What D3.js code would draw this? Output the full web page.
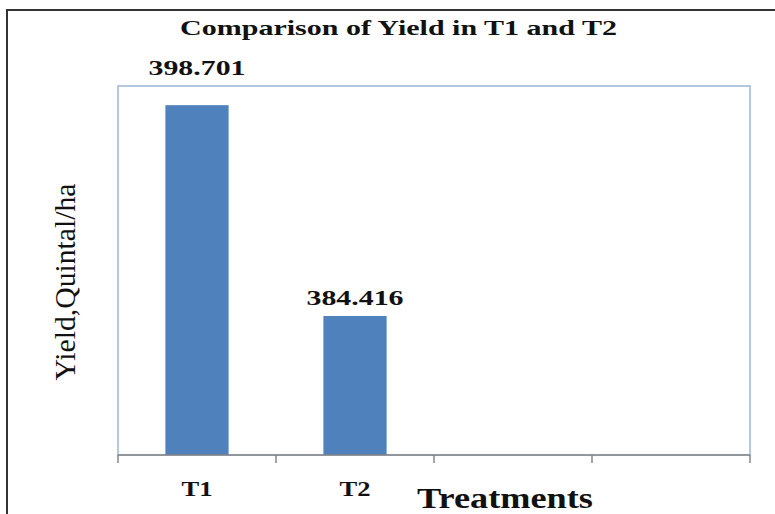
<!DOCTYPE html>
<html><head><meta charset="utf-8">
<script src="https://cdnjs.cloudflare.com/ajax/libs/d3/7.8.5/d3.min.js"></script>
<style>body{margin:0;background:#fff}svg{display:block}</style>
</head><body>
<script>
const categories = ["T1", "T2", "", " "];
const yields = [398.701, 384.416, null, null];
const valueLabels = ["398.701", "384.416"];
const yDomain = [375, 400];
const title = "Comparison of Yield in T1 and T2";
const xTitle = "Treatments";
const yTitle = "Yield,Quintal/ha";

const W = 775, H = 514;
const plot = {left: 118, top: 86, right: 750, bottom: 455};
const labelOffsets = [30, 11];
const serif = "Liberation Serif, Times New Roman, serif";
const svg = d3.select("body").append("svg").attr("width", W).attr("height", H);

svg.append("rect").attr("x", 7).attr("y", 10).attr("width", W + 10).attr("height", H + 10)
  .attr("fill", "#fff").attr("stroke", "#333").attr("stroke-width", 2);

const x = d3.scaleBand().domain(categories).range([plot.left, plot.right]).paddingInner(0.6).paddingOuter(0.3);
const y = d3.scaleLinear().domain(yDomain).range([plot.bottom, plot.top]);

svg.append("rect").attr("x", plot.left).attr("y", plot.top)
  .attr("width", plot.right - plot.left).attr("height", plot.bottom - plot.top)
  .attr("fill", "none").attr("stroke", "#9bb7d4").attr("stroke-width", 1.5);

const data = categories.map((c, i) => ({c, i, v: yields[i], label: valueLabels[i]})).filter(d => d.v != null);

svg.selectAll("rect.bar").data(data).enter().append("rect").attr("class", "bar")
  .attr("x", d => x(d.c)).attr("width", x.bandwidth())
  .attr("y", d => y(d.v)).attr("height", d => y(yDomain[0]) - y(d.v))
  .attr("fill", "#4f81bd");

// x axis with ticks at band boundaries
const xAxisG = svg.append("g");
xAxisG.append("line").attr("x1", plot.left).attr("x2", plot.right).attr("y1", plot.bottom).attr("y2", plot.bottom)
  .attr("stroke", "#868686").attr("stroke-width", 1.5);
const boundaries = d3.range(categories.length + 1).map(i => plot.left + i * (plot.right - plot.left) / categories.length);
xAxisG.selectAll("line.tick").data(boundaries).enter().append("line").attr("class", "tick")
  .attr("x1", d => d).attr("x2", d => d).attr("y1", plot.bottom).attr("y2", plot.bottom + 8)
  .attr("stroke", "#868686").attr("stroke-width", 1.5);

xAxisG.selectAll("text.cat").data(categories.filter(c => c.trim() !== "")).enter().append("text")
  .attr("class", "cat")
  .attr("x", d => x(d) + x.bandwidth() / 2).attr("y", 496)
  .attr("text-anchor", "middle").attr("font-family", serif)
  .attr("font-weight", "bold").attr("font-size", 21).attr("fill", "#111")
  .attr("textLength", 31).attr("lengthAdjust", "spacingAndGlyphs").text(d => d);

svg.selectAll("text.val").data(data).enter().append("text").attr("class", "val")
  .attr("x", d => x(d.c) + x.bandwidth() / 2).attr("y", d => y(d.v) - labelOffsets[d.i])
  .attr("text-anchor", "middle").attr("font-family", serif)
  .attr("font-weight", "bold").attr("font-size", 22).attr("fill", "#111")
  .attr("textLength", 97).attr("lengthAdjust", "spacingAndGlyphs").text(d => d.label);

svg.append("text").attr("x", 398.5).attr("y", 35).attr("text-anchor", "middle")
  .attr("font-family", serif).attr("font-weight", "bold")
  .attr("font-size", 22).attr("fill", "#111")
  .attr("textLength", 437).attr("lengthAdjust", "spacingAndGlyphs").text(title);

svg.append("text").attr("x", 505).attr("y", 508).attr("text-anchor", "middle")
  .attr("font-family", serif).attr("font-weight", "bold")
  .attr("font-size", 30).attr("fill", "#111")
  .attr("textLength", 176).attr("lengthAdjust", "spacingAndGlyphs").text(xTitle);

svg.append("text").attr("transform", "translate(75,282) rotate(-90)").attr("text-anchor", "middle")
  .attr("font-family", serif).attr("font-weight", "normal")
  .attr("font-size", 29).attr("fill", "#111")
  .attr("textLength", 197).attr("lengthAdjust", "spacingAndGlyphs").text(yTitle);
</script>
</body></html>
